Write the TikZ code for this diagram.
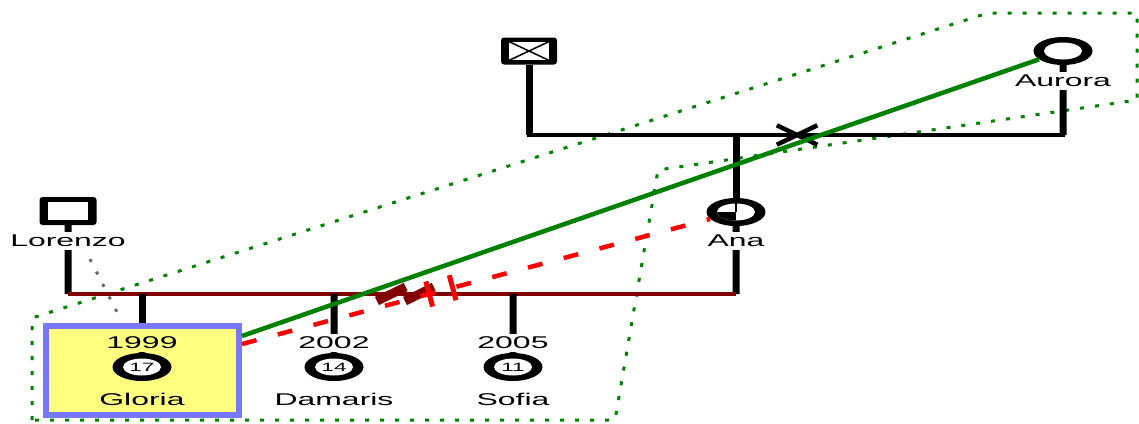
\documentclass[tikz,border=0pt]{standalone}
\usepackage{fontspec}
\setmainfont{Liberation Sans}
\usetikzlibrary{calc,shapes.geometric,shapes.misc}

\definecolor{hhgreen}{HTML}{008000}
\definecolor{marr}{HTML}{800000}
\definecolor{idxblue}{HTML}{7878FF}
\definecolor{idxyellow}{HTML}{FFFF80}

\newcommand{\wide}[1]{\scalebox{1.88}[1]{#1}}

\tikzset{
  maleout/.style={rectangle, fill=black, rounded corners=3pt, minimum width=57pt, minimum height=28pt, inner sep=0pt},
  malein/.style={rectangle, fill=white, minimum width=40pt, minimum height=18pt, inner sep=0pt},
  femout/.style={ellipse, fill=black, minimum width=59pt, minimum height=28pt, inner sep=0pt},
  femin/.style={ellipse, fill=white, minimum width=38pt, minimum height=17pt, inner sep=0pt},
  lbl/.style={font=\fontsize{17}{17}\selectfont, xscale=1.88, inner xsep=0pt, inner ysep=3pt},
  vline/.style={line width=7pt},
  hline/.style={line width=4.5pt, line cap=rect},
  marriage/.style={draw=marr, line width=4.5pt},
  divslash/.style={fill=marr, minimum width=32pt, minimum height=9pt, inner sep=0pt, rotate=26},
  conflict/.style={draw=red, line width=4.5pt, dash pattern=on 15pt off 22pt},
  rtick/.style={fill=red, minimum width=5pt, minimum height=26pt, inner sep=0pt},
  bond/.style={draw=hhgreen, line width=4.5pt},
  household/.style={draw=hhgreen, line width=3pt, dash pattern=on 4pt off 11pt},
  distant/.style={draw=black!60, line width=3pt, dash pattern=on 3pt off 11pt}
}

\begin{document}
\begin{tikzpicture}[x=1pt,y=-1pt]
  \useasboundingbox (0,0) rectangle (1139,423);

  %% Household boundary
  \draw[household] (32,420) -- (32,318) -- (988,13) -- (1137,13) -- (1137,100)
    -- (658,170) -- (615,420) -- cycle;

  %% Grandparents
  \node[maleout, minimum width=56pt, minimum height=27pt] (Unk) at (529,51) {};
  \node[malein] (UnkIn) at (Unk) {};
  \node[draw, cross out, line width=1.5pt, minimum width=40pt, minimum height=18pt] (UnkX) at (Unk) {};
  \node[femout] (Aurora) at (1063,51) {};
  \node[femin] (AuroraIn) at (Aurora) {};
  \node[lbl] (AuroraLbl) at (1063,81) {Aurora};
  \coordinate (tL) at (529,135);
  \coordinate (tA) at (736,135);
  \coordinate (tR) at (1063,135);
  \draw[vline] (Unk) -- (tL);
  \draw[vline] (Aurora) -- (AuroraLbl);
  \draw[vline] (AuroraLbl) -- (tR);
  \draw[hline] (tL) -- node[pos=0.502, draw, cross out, line width=4.5pt,
    minimum width=32pt, minimum height=13pt] (SepX) {} (tR);

  %% Parents
  \node[maleout] (Lorenzo) at (68,211) {};
  \node[malein] (LorenzoIn) at (Lorenzo) {};
  \node[lbl] (LorenzoLbl) at (68,241) {Lorenzo};
  \node[femout] (Ana) at (736,212) {};
  \node[femin] (AnaIn) at (Ana) {};
  \begin{scope}
    \clip (AnaIn.center) ellipse [x radius=19pt, y radius=8.5pt];
    \fill (AnaIn.center) rectangle ($(AnaIn.center)+(-25,12)$);
  \end{scope}
  \draw[line width=1.5pt] (AnaIn.north) -- (AnaIn.center);
  \node[lbl] (AnaLbl) at (736,241) {Ana};
  \coordinate (mL) at (68,294);
  \coordinate (mR) at (736,294);
  \draw[vline] (tA) -- (Ana);
  \draw[vline] (Ana) -- (AnaLbl);
  \draw[vline] (AnaLbl) -- (mR);
  \draw[vline] (Lorenzo) -- (LorenzoLbl);
  \draw[vline] (LorenzoLbl) -- (mL);
  \draw[marriage] (mL) -- node[pos=0.484, divslash] {} node[pos=0.526, divslash] {} (mR);

  %% Children
  \node[draw=idxblue, fill=idxyellow, line width=6pt, minimum width=193pt,
    minimum height=89pt] (Gbox) at (142.5,370.5) {};
  \draw[vline] (Gbox.north |- mL) -- (Gbox.north);
  \foreach \x/\yr/\age/\name/\id in {142/1999/17/Gloria/G,334/2002/14/Damaris/D,513/2005/11/Sofia/S}
  {
    \node[lbl] (Y\id) at (\x,343) {\yr};
    \node[femout] (C\id) at (\x,367) {};
    \node[femin] (C\id In) at (C\id) {\fontsize{12}{12}\selectfont\wide{\age}};
    \node[lbl] (N\id) at (\x,399) {\name};
    \draw[vline] (Y\id) -- (C\id);
  }
  \foreach \id in {D,S}
    \draw[vline] (Y\id.north |- mL) -- (Y\id);

  %% Emotional relations
  \draw[distant] ($(LorenzoLbl.south)+(22,9)$) -- ($(Gbox.north west)+(77,-5)$);
  \draw[conflict] (Gbox) -- node[pos=0.40, sloped, rtick] {} node[pos=0.45, sloped, rtick] {} (Ana);
  \draw[bond] (Gbox) -- (Aurora);

\end{tikzpicture}
\end{document}
